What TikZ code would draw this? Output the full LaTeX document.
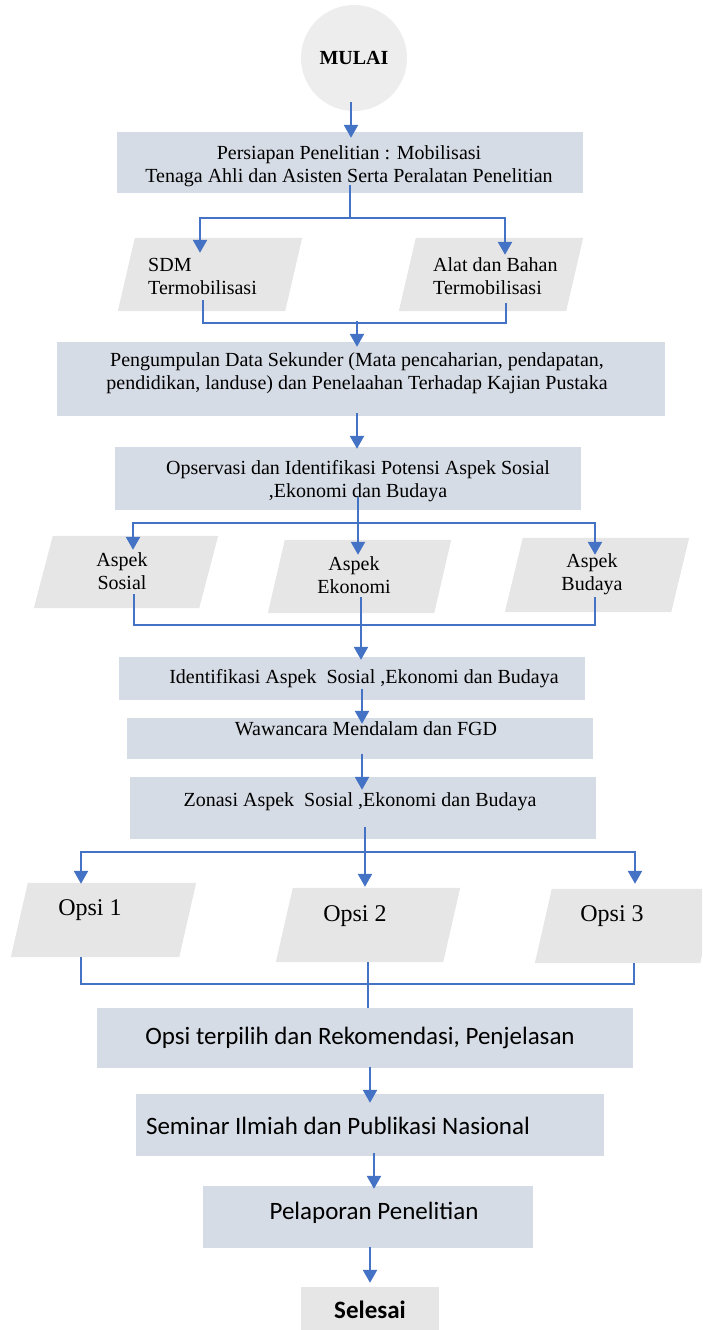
\documentclass[tikz,border=0pt]{standalone}
\usepackage{fontspec}
\setmainfont{Liberation Serif}
\newfontfamily\calibrifont{Carlito}
\usetikzlibrary{arrows.meta,calc}

\definecolor{stepfill}{HTML}{D6DCE5}
\definecolor{datafill}{HTML}{E7E6E6}
\definecolor{termfill}{HTML}{EDEDED}
\definecolor{flowblue}{HTML}{4472C4}

\tikzset{
  stepbox/.style={rectangle, fill=stepfill, inner sep=0pt},
  databox/.style={rectangle, inner sep=0pt},
  serif/.style={inner sep=0pt, align=center, font=\fontsize{20}{23}\selectfont},
  serifone/.style={serif, text height=14pt, text depth=4.5pt},
  bigserif/.style={inner sep=0pt, font=\fontsize{24}{28}\selectfont, text height=16.5pt, text depth=5.2pt},
  sans/.style={inner sep=0pt, font=\calibrifont\fontsize{25}{30}\selectfont, text height=17.5pt, text depth=5.5pt},
  flow/.style={draw=flowblue, line width=2.4pt, -{Triangle[width=14pt,length=13pt]}},
  wire/.style={draw=flowblue, line width=1.2pt},
}
% slanted data shape, filled from the anchors of an empty node
\newcommand\datashape[2]{%
  \fill[datafill] ([xshift=#2]#1.north west) -- (#1.north east)
    -- ([xshift=-#2]#1.south east) -- (#1.south west) -- cycle;}

\begin{document}
\begin{tikzpicture}[x=1pt,y=-1pt]
\useasboundingbox (0,0) rectangle (702,1330);
\clip (0,0) rectangle (702,1330);

% ---------- start and preparation ----------
\node[circle, fill=termfill, minimum size=106pt, inner sep=0pt,
      font=\bfseries\fontsize{20}{23}\selectfont] (m) at (354,58) {MULAI};
\node[stepbox, minimum width=466pt, minimum height=61pt] (b1) at (350,162.5) {};
\node[serif] (t1) at (349,166) {Persiapan Penelitian : Mobilisasi\\Tenaga Ahli dan Asisten Serta Peralatan Penelitian};

% ---------- mobilised resources ----------
\node[databox, minimum width=184pt, minimum height=73pt] (p1) at (210,274.5) {};
\datashape{p1}{17}
\node[serif, align=left, anchor=west] (p1t) at (148,276.5) {SDM\\Termobilisasi};
\node[databox, minimum width=184pt, minimum height=73pt] (p2) at (491,274.5) {};
\datashape{p2}{17}
\node[serif, align=left, anchor=west] (p2t) at (433,276.5) {Alat dan Bahan\\Termobilisasi};

% ---------- secondary data and observation ----------
\node[stepbox, minimum width=608pt, minimum height=74pt] (b2) at (361,379) {};
\node[serif] (t2) at (357,373.5) {Pengumpulan Data Sekunder (Mata pencaharian, pendapatan,\\pendidikan, landuse) dan Penelaahan Terhadap Kajian Pustaka};
\node[stepbox, minimum width=466pt, minimum height=63pt] (b3) at (348,478.5) {};
\node[serif] (t3) at (358,481) {Opservasi dan Identifikasi Potensi Aspek Sosial\\,Ekonomi dan Budaya};

% ---------- aspects ----------
\node[databox, minimum width=184pt, minimum height=72pt] (a1) at (126,572) {};
\datashape{a1}{19}
\node[serif] (a1t) at (122,571) {Aspek\\Sosial};
\node[databox, minimum width=183pt, minimum height=73pt] (a2) at (359.5,576.5) {};
\datashape{a2}{17}
\node[serif] (a2t) at (354,575) {Aspek\\Ekonomi};
\node[databox, minimum width=184pt, minimum height=74pt] (a3) at (597,575) {};
\datashape{a3}{18}
\node[serif] (a3t) at (592,574.5) {Aspek\\Budaya};

% ---------- identification, interview, zoning ----------
\node[stepbox, minimum width=466pt, minimum height=43pt] (b4) at (352,678.5) {};
\node[serifone] (t4) at (364,679) {Identifikasi Aspek\ \ Sosial ,Ekonomi dan Budaya};
\node[stepbox, minimum width=466pt, minimum height=41pt] (b5) at (360,738.5) {};
\node[serifone] (t5) at (366,731) {Wawancara Mendalam dan FGD};
\node[stepbox, minimum width=466pt, minimum height=62pt] (b6) at (363,808) {};
\node[serifone] (t6) at (360,802) {Zonasi Aspek\ \ Sosial ,Ekonomi dan Budaya};

% ---------- options ----------
\node[databox, minimum width=185pt, minimum height=74pt] (o1) at (103.5,920) {};
\datashape{o1}{17}
\node[bigserif] (o1t) at (90,910) {Opsi 1};
\node[databox, minimum width=184pt, minimum height=74pt] (o2) at (368,925) {};
\datashape{o2}{17}
\node[bigserif] (o2t) at (355,916) {Opsi 2};
\node[databox, minimum width=182pt, minimum height=74pt] (o3) at (626,926) {};
\datashape{o3}{17}
\node[bigserif] (o3t) at (612,916) {Opsi 3};

% ---------- results and reporting ----------
\node[stepbox, minimum width=536pt, minimum height=60pt] (b7) at (365,1038) {};
\node[sans] (t7) at (360,1038) {Opsi terpilih dan Rekomendasi, Penjelasan};
\node[stepbox, minimum width=468pt, minimum height=62pt] (b8) at (370,1125) {};
\node[sans] (t8) at (338,1128) {Seminar Ilmiah dan Publikasi Nasional};
\node[stepbox, minimum width=330pt, minimum height=62pt] (b9) at (368,1217) {};
\node[sans] (t9) at (374,1213) {Pelaporan Penelitian};
\node[rectangle, fill=datafill, minimum width=138pt, minimum height=46pt, inner sep=0pt,
      font=\calibrifont\bfseries\fontsize{25}{30}\selectfont] (b10) at (370,1310) {Selesai};

% ---------- connectors ----------
\draw[flow] ($(m.south)+(-3,-9)$) -- ($(b1.north)+(1,6)$);

% split to the two resources
\coordinate (s1)  at (350,218);
\coordinate (s1l) at (200,218);
\coordinate (s1r) at (505,218);
\draw[wire] ($(s1 |- b1.south)+(0,-8)$) -- (s1);
\draw[wire] (s1l) -- (s1r);
\draw[flow] ($(s1l)+(0,-0.6)$) -- ($(s1l |- p1.north)+(0,15)$);
\draw[flow] ($(s1r)+(0,-0.6)$) -- ($(s1r |- p2.north)+(0,17)$);

% merge into secondary data
\coordinate (r1l) at (203,323);
\coordinate (r1)  at (357,323);
\coordinate (r1r) at (506,323);
\draw[wire] ($(r1l |- p1.south)+(0,-11)$) -- (r1l) -- (r1r) -- ($(r1r |- p2.south)+(0,-8)$);
\draw[flow] ($(r1)+(0,-2)$) -- ($(r1 |- b2.north)+(0,5)$);

\draw[flow] ($(b2.south)+(-4,-3)$) -- ($(b3.north)+(9,2)$);

% split to the three aspects
\coordinate (s2)  at (358,523);
\coordinate (s2l) at (133,523);
\coordinate (s2r) at (595,523);
\draw[wire] ($(s2 |- b3.south)+(0,-13)$) -- (s2);
\draw[wire] (s2l) -- (s2r);
\draw[flow] ($(s2l)+(0,-0.6)$) -- ($(s2l |- a1.north)+(0,14)$);
\draw[flow] (s2) -- ($(s2 |- a2.north)+(0,15)$);
\draw[flow] ($(s2r)+(0,-0.6)$) -- ($(s2r |- a3.north)+(0,17)$);

% merge into identification
\coordinate (r2l) at (134,625);
\coordinate (r2)  at (361,625);
\coordinate (r2r) at (595,625);
\draw[wire] ($(r2l |- a1.south)+(0,-14)$) -- (r2l) -- (r2r) -- ($(r2r |- a3.south)+(0,-15)$);
\draw[wire] ($(r2 |- a2.south)+(0,-16)$) -- (r2);
\draw[flow] (r2) -- ($(r2 |- b4.north)+(0,3)$);

\draw[flow] ($(b4.south)+(10,-11)$) -- ($(b5.north)+(2,6)$);
\draw[flow] ($(b5.south)+(2,-5)$) -- ($(b6.north)+(-1,13)$);

% split to the three options
\coordinate (s3)  at (365,852);
\coordinate (s3l) at (81,852);
\coordinate (s3r) at (635,852);
\draw[wire] ($(s3 |- b6.south)+(0,-12)$) -- (s3);
\draw[wire] (s3l) -- (s3r);
\draw[flow] ($(s3l)+(0,-0.6)$) -- ($(s3l |- o1.north)+(0,1)$);
\draw[flow] (s3) -- ($(s3 |- o2.north)+(0,-1)$);
\draw[flow] ($(s3r)+(0,-0.6)$) -- ($(s3r |- o3.north)+(0,-5)$);

% merge into the chosen option
\coordinate (r3l) at (81,984);
\coordinate (r3)  at (368,984);
\coordinate (r3r) at (634,984);
\draw[wire] (r3l |- o1.south) -- (r3l) -- (r3r) -- (r3r |- o3.south);
\draw[wire] (r3 |- o2.south) -- (r3 |- b7.north);

\draw[flow] ($(b7.south)+(5,-1)$) -- ($(b8.north)+(0,9)$);
\draw[flow] ($(b8.south)+(4,-3)$) -- ($(b9.north)+(6,3)$);
\draw[flow] ($(b9.south)+(2,-1)$) -- ($(b10.north)+(0,-4)$);
\end{tikzpicture}
\end{document}
